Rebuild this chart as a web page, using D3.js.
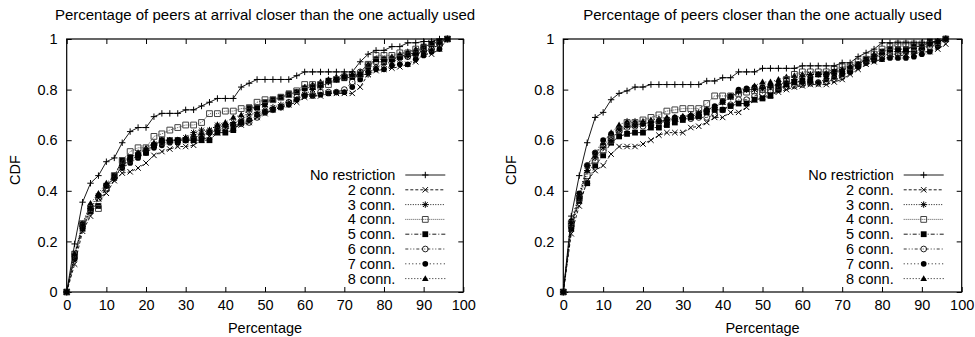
<!DOCTYPE html>
<html>
<head>
<meta charset="utf-8">
<script src="https://cdn.jsdelivr.net/npm/d3@7"></script>
<style>
  body { margin: 0; background: #fff; }
  svg { display: block; font-family: "Liberation Sans", Arial, sans-serif; }
  .label-text { font-size: 14.5px; fill: #000; }
  .title-text { font-size: 15px; fill: #000; }
</style>
</head>
<body>
<script>
// x positions of the samples (percentage)
var xValues = [0, 2, 4, 6, 8, 10, 12, 14, 16, 18, 20, 22, 24, 26, 28, 30, 32, 34, 36, 38, 40, 42, 44, 46, 48,
               50, 52, 54, 56, 58, 60, 62, 64, 66, 68, 70, 72, 74, 76, 78, 80, 82, 84, 86, 88, 90, 92, 94, 96];

var seriesNames = ["No restriction", "2 conn.", "3 conn.", "4 conn.", "5 conn.", "6 conn.", "7 conn.", "8 conn."];
var xTicks = [0, 10, 20, 30, 40, 50, 60, 70, 80, 90, 100];
var yTicks = [0, 0.2, 0.4, 0.6, 0.8, 1];
var titles = ["Percentage of peers at arrival closer than the one actually used",
              "Percentage of peers closer than the one actually used"];

// left panel: peers at arrival
var arrivalNoRestriction = [0, 0.19, 0.355, 0.43, 0.46, 0.515, 0.53, 0.59, 0.634, 0.65, 0.65, 0.693, 0.706, 0.706, 0.706, 0.72, 0.72, 0.735, 0.75, 0.765, 0.765, 0.765, 0.81, 0.825, 0.84,
                            0.84, 0.84, 0.84, 0.84, 0.855, 0.87, 0.87, 0.87, 0.87, 0.87, 0.87, 0.87, 0.91, 0.94, 0.955, 0.955, 0.97, 0.97, 0.985, 0.985, 0.99, 0.99, 1.0, 1.0];
var arrival2 = [0, 0.11, 0.24, 0.3, 0.37, 0.39, 0.44, 0.47, 0.475, 0.49, 0.51, 0.54, 0.555, 0.565, 0.575, 0.575, 0.58, 0.6, 0.615, 0.63, 0.645, 0.65, 0.66, 0.67, 0.69,
                0.705, 0.72, 0.73, 0.74, 0.75, 0.77, 0.775, 0.775, 0.785, 0.785, 0.785, 0.785, 0.81, 0.86, 0.875, 0.88, 0.885, 0.89, 0.9, 0.91, 0.94, 0.94, 0.96, 1.0];
var arrival3 = [0, 0.15, 0.26, 0.33, 0.38, 0.42, 0.45, 0.5, 0.53, 0.55, 0.56, 0.58, 0.6, 0.6, 0.6, 0.61, 0.63, 0.64, 0.64, 0.66, 0.66, 0.67, 0.68, 0.7, 0.71,
                0.72, 0.73, 0.74, 0.75, 0.76, 0.78, 0.8, 0.81, 0.83, 0.84, 0.85, 0.86, 0.86, 0.86, 0.89, 0.9, 0.91, 0.92, 0.93, 0.94, 0.95, 0.96, 0.98, 1.0];
var arrival4 = [0, 0.15, 0.27, 0.33, 0.33, 0.41, 0.46, 0.52, 0.555, 0.57, 0.57, 0.615, 0.625, 0.64, 0.65, 0.66, 0.66, 0.67, 0.705, 0.705, 0.715, 0.715, 0.725, 0.725, 0.75,
                0.76, 0.76, 0.77, 0.78, 0.795, 0.82, 0.82, 0.82, 0.82, 0.84, 0.85, 0.86, 0.86, 0.9, 0.935, 0.935, 0.935, 0.945, 0.945, 0.96, 0.965, 0.985, 0.99, 1.0];
var arrival5 = [0, 0.14, 0.25, 0.32, 0.34, 0.42, 0.46, 0.52, 0.53, 0.54, 0.55, 0.58, 0.6, 0.6, 0.6, 0.6, 0.6, 0.6, 0.6, 0.63, 0.63, 0.64, 0.67, 0.73, 0.73,
                0.75, 0.76, 0.77, 0.785, 0.79, 0.805, 0.81, 0.82, 0.835, 0.84, 0.845, 0.85, 0.86, 0.89, 0.92, 0.92, 0.92, 0.93, 0.94, 0.945, 0.97, 0.98, 0.99, 1.0];
var arrival6 = [0, 0.14, 0.26, 0.32, 0.37, 0.41, 0.45, 0.5, 0.52, 0.54, 0.56, 0.58, 0.59, 0.595, 0.6, 0.6, 0.61, 0.62, 0.63, 0.64, 0.65, 0.66, 0.665, 0.67, 0.69,
                0.71, 0.72, 0.73, 0.75, 0.77, 0.78, 0.78, 0.79, 0.79, 0.79, 0.8, 0.83, 0.87, 0.9, 0.91, 0.91, 0.92, 0.93, 0.93, 0.94, 0.95, 0.96, 0.98, 1.0];
var arrival7 = [0, 0.13, 0.27, 0.34, 0.38, 0.42, 0.45, 0.49, 0.51, 0.53, 0.55, 0.57, 0.58, 0.59, 0.59, 0.6, 0.6, 0.61, 0.63, 0.65, 0.66, 0.66, 0.67, 0.68, 0.7,
                0.71, 0.72, 0.73, 0.74, 0.76, 0.775, 0.775, 0.78, 0.785, 0.79, 0.79, 0.81, 0.84, 0.87, 0.88, 0.88, 0.895, 0.9, 0.9, 0.92, 0.935, 0.95, 0.96, 1.0];
var arrival8 = [0, 0.15, 0.27, 0.35, 0.39, 0.43, 0.46, 0.51, 0.53, 0.55, 0.57, 0.59, 0.6, 0.6, 0.6, 0.61, 0.62, 0.63, 0.64, 0.66, 0.67, 0.69, 0.7, 0.72, 0.73,
                0.74, 0.76, 0.77, 0.78, 0.79, 0.81, 0.82, 0.83, 0.84, 0.85, 0.86, 0.86, 0.87, 0.9, 0.92, 0.92, 0.93, 0.94, 0.95, 0.96, 0.97, 0.98, 0.99, 1.0];

// right panel: all peers
var allNoRestriction = [0, 0.3, 0.46, 0.59, 0.69, 0.71, 0.76, 0.785, 0.795, 0.81, 0.81, 0.82, 0.82, 0.82, 0.82, 0.82, 0.82, 0.82, 0.834, 0.834, 0.847, 0.847, 0.87, 0.87, 0.87,
                        0.884, 0.884, 0.884, 0.884, 0.884, 0.894, 0.894, 0.894, 0.894, 0.894, 0.906, 0.906, 0.93, 0.945, 0.96, 0.985, 0.985, 0.985, 0.985, 0.985, 0.985, 0.985, 0.99, 1.0];
var all2 = [0, 0.23, 0.34, 0.44, 0.48, 0.5, 0.545, 0.575, 0.575, 0.575, 0.585, 0.6, 0.62, 0.63, 0.63, 0.63, 0.65, 0.655, 0.67, 0.69, 0.69, 0.71, 0.71, 0.73, 0.76,
            0.77, 0.78, 0.79, 0.8, 0.81, 0.815, 0.82, 0.82, 0.82, 0.83, 0.84, 0.86, 0.88, 0.9, 0.91, 0.92, 0.93, 0.93, 0.94, 0.94, 0.95, 0.95, 0.96, 0.98];
var all3 = [0, 0.27, 0.38, 0.48, 0.53, 0.57, 0.6, 0.64, 0.655, 0.66, 0.665, 0.67, 0.675, 0.68, 0.685, 0.69, 0.7, 0.71, 0.72, 0.73, 0.75, 0.77, 0.79, 0.8, 0.8,
            0.805, 0.81, 0.82, 0.83, 0.84, 0.85, 0.86, 0.86, 0.86, 0.87, 0.88, 0.89, 0.9, 0.915, 0.93, 0.94, 0.95, 0.95, 0.95, 0.95, 0.96, 0.98, 0.99, 1.0];
var all4 = [0, 0.27, 0.37, 0.46, 0.52, 0.56, 0.6, 0.64, 0.67, 0.67, 0.68, 0.69, 0.7, 0.715, 0.72, 0.725, 0.725, 0.725, 0.745, 0.775, 0.775, 0.775, 0.785, 0.79, 0.795,
            0.8, 0.8, 0.81, 0.84, 0.86, 0.87, 0.87, 0.87, 0.87, 0.88, 0.89, 0.89, 0.91, 0.92, 0.94, 0.96, 0.97, 0.98, 0.98, 0.98, 0.98, 0.98, 0.99, 1.0];
var all5 = [0, 0.25, 0.36, 0.43, 0.5, 0.54, 0.59, 0.615, 0.625, 0.63, 0.63, 0.65, 0.65, 0.66, 0.67, 0.68, 0.69, 0.695, 0.71, 0.72, 0.72, 0.735, 0.745, 0.745, 0.76,
            0.765, 0.775, 0.8, 0.82, 0.83, 0.835, 0.84, 0.86, 0.86, 0.87, 0.87, 0.88, 0.9, 0.92, 0.93, 0.95, 0.96, 0.96, 0.96, 0.97, 0.97, 0.99, 0.99, 1.0];
var all6 = [0, 0.26, 0.37, 0.5, 0.55, 0.58, 0.61, 0.635, 0.65, 0.655, 0.655, 0.66, 0.67, 0.675, 0.68, 0.685, 0.685, 0.69, 0.69, 0.7, 0.72, 0.74, 0.76, 0.76, 0.775,
            0.785, 0.79, 0.8, 0.81, 0.815, 0.82, 0.825, 0.825, 0.83, 0.84, 0.85, 0.87, 0.89, 0.91, 0.925, 0.935, 0.94, 0.94, 0.95, 0.95, 0.96, 0.97, 0.98, 1.0];
var all7 = [0, 0.28, 0.39, 0.5, 0.55, 0.6, 0.625, 0.65, 0.66, 0.66, 0.665, 0.67, 0.675, 0.68, 0.69, 0.69, 0.695, 0.7, 0.72, 0.735, 0.755, 0.775, 0.8, 0.805, 0.81,
            0.81, 0.815, 0.82, 0.825, 0.83, 0.83, 0.83, 0.83, 0.84, 0.85, 0.86, 0.87, 0.89, 0.905, 0.915, 0.92, 0.925, 0.925, 0.925, 0.93, 0.94, 0.95, 0.97, 1.0];
var all8 = [0, 0.26, 0.38, 0.48, 0.54, 0.59, 0.63, 0.66, 0.675, 0.675, 0.675, 0.68, 0.685, 0.69, 0.69, 0.695, 0.7, 0.705, 0.72, 0.73, 0.75, 0.77, 0.795, 0.8, 0.815,
            0.83, 0.83, 0.84, 0.85, 0.855, 0.86, 0.86, 0.86, 0.865, 0.87, 0.88, 0.89, 0.9, 0.92, 0.94, 0.95, 0.96, 0.96, 0.96, 0.97, 0.97, 0.98, 0.99, 1.0];

var arrivalSeries = [arrivalNoRestriction, arrival2, arrival3, arrival4, arrival5, arrival6, arrival7, arrival8];
var allSeries = [allNoRestriction, all2, all3, all4, all5, all6, all7, all8];

// gnuplot-like line styles and point types
var styles = [
    {dash: null, marker: "plus", stroke: "#000"},
    {dash: "3,2", marker: "cross", stroke: "#000"},
    {dash: "1,1.5", marker: "star", stroke: "#000"},
    {dash: "1,1", marker: "square", stroke: "#444"},
    {dash: "4,2,1,2", marker: "squareFilled", stroke: "#000"},
    {dash: "3,2,1,2,1,2", marker: "circle", stroke: "#222"},
    {dash: "1,2.5", marker: "circleFilled", stroke: "#000"},
    {dash: "1,2", marker: "triangleFilled", stroke: "#000"}
];

function markerPath(type) {
    switch (type) {
        case "plus": return "M-3.2,0H3.2M0,-3.2V3.2";
        case "cross": return "M-2.7,-2.7L2.7,2.7M-2.7,2.7L2.7,-2.7";
        case "star": return "M-3.2,0H3.2M0,-3.2V3.2M-2.4,-2.4L2.4,2.4M-2.4,2.4L2.4,-2.4";
        case "square":
        case "squareFilled": return "M-2.9,-2.9H2.9V2.9H-2.9Z";
        case "triangleFilled": return "M0,-3.4L3.3,2.4H-3.3Z";
        default: return d3.symbol().type(d3.symbolCircle).size(26)();
    }
}

function drawMarkers(sel, type, stroke) {
    var filled = /Filled/.test(type);
    sel.attr("d", markerPath(type))
        .attr("fill", filled ? "#000" : "none")
        .attr("stroke", filled ? "none" : stroke)
        .attr("stroke-width", 1);
}

var svg = d3.select("body").append("svg")
    .attr("width", 975)
    .attr("height", 337);

svg.append("rect").attr("width", 975).attr("height", 337).attr("fill", "#fff");

var panels = [
    {left: 66.7, right: 463.3, series: arrivalSeries, title: titles[0]},
    {left: 563.3, right: 961.7, series: allSeries, title: titles[1]}
];
var plotTop = 39, plotBottom = 292;

panels.forEach(function(p) {
    var width = p.right - p.left, height = plotBottom - plotTop;
    var g = svg.append("g").attr("transform", "translate(" + p.left + "," + plotTop + ")");

    var xScale = d3.scaleLinear().domain([0, 100]).range([0, width]);
    var yScale = d3.scaleLinear().domain([0, 1]).range([height, 0]);

    // axes with inward ticks, mirrored on top and right
    g.append("g").attr("transform", "translate(0," + height + ")")
        .call(d3.axisBottom(xScale).tickValues(xTicks).tickSizeInner(-5).tickSizeOuter(0).tickPadding(8).tickFormat(d3.format("d")));
    g.append("g")
        .call(d3.axisTop(xScale).tickValues(xTicks).tickSizeInner(-5).tickSizeOuter(0).tickFormat(""));
    g.append("g")
        .call(d3.axisLeft(yScale).tickValues(yTicks).tickSizeInner(-5).tickSizeOuter(0).tickPadding(9).tickFormat(function(d) { return String(+d.toFixed(1)); }));
    g.append("g").attr("transform", "translate(" + width + ",0)")
        .call(d3.axisRight(yScale).tickValues(yTicks).tickSizeInner(-5).tickSizeOuter(0).tickFormat(""));
    g.selectAll(".domain").remove();
    g.selectAll(".tick line").attr("stroke", "#000");
    g.selectAll(".tick text").attr("font-size", 14.5).attr("font-family", "Liberation Sans, Arial, sans-serif");

    g.append("rect")
        .attr("width", width).attr("height", height)
        .attr("fill", "none").attr("stroke", "#000").attr("stroke-width", 1.2);

    var line = d3.line()
        .x(function(d) { return xScale(d[0]); })
        .y(function(d) { return yScale(d[1]); });

    // draw in reverse so "No restriction" sits on top
    d3.range(p.series.length - 1, -1, -1).forEach(function(i) {
        var pts = xValues.map(function(x, j) { return [x, p.series[i][j]]; });
        var st = styles[i];
        g.append("path")
            .attr("d", line(pts))
            .attr("fill", "none")
            .attr("stroke", st.stroke)
            .attr("stroke-width", 0.9)
            .attr("stroke-dasharray", st.dash);
        g.selectAll(".m" + i)
            .data(pts)
            .enter()
            .append("path")
            .attr("class", "m" + i)
            .attr("transform", function(d) { return "translate(" + xScale(d[0]) + "," + yScale(d[1]) + ")"; })
            .call(drawMarkers, st.marker, st.stroke);
    });

    // legend
    var lg = g.append("g").attr("transform", "translate(" + (width - 58) + "," + (175 - plotTop) + ")");
    seriesNames.forEach(function(name, i) {
        var st = styles[i];
        var row = lg.append("g").attr("transform", "translate(0," + (i * 14.8) + ")");
        row.append("text")
            .attr("class", "label-text")
            .attr("x", -10)
            .attr("dy", "0.35em")
            .attr("text-anchor", "end")
            .text(name);
        row.append("line")
            .attr("x1", 0).attr("x2", 40)
            .attr("stroke", st.stroke)
            .attr("stroke-width", 0.9)
            .attr("stroke-dasharray", st.dash);
        row.append("path")
            .attr("transform", "translate(20,0)")
            .call(drawMarkers, st.marker, st.stroke);
    });

    // titles and axis labels
    svg.append("text")
        .attr("class", "title-text")
        .attr("x", p.left + width / 2)
        .attr("y", 20)
        .attr("text-anchor", "middle")
        .text(p.title);
    svg.append("text")
        .attr("class", "label-text")
        .attr("x", p.left + width / 2)
        .attr("y", 333)
        .attr("text-anchor", "middle")
        .text("Percentage");
    svg.append("text")
        .attr("class", "label-text")
        .attr("transform", "translate(" + (p.left - 47) + "," + 170 + ") rotate(-90)")
        .attr("text-anchor", "middle")
        .text("CDF");
});
</script>
</body>
</html>
